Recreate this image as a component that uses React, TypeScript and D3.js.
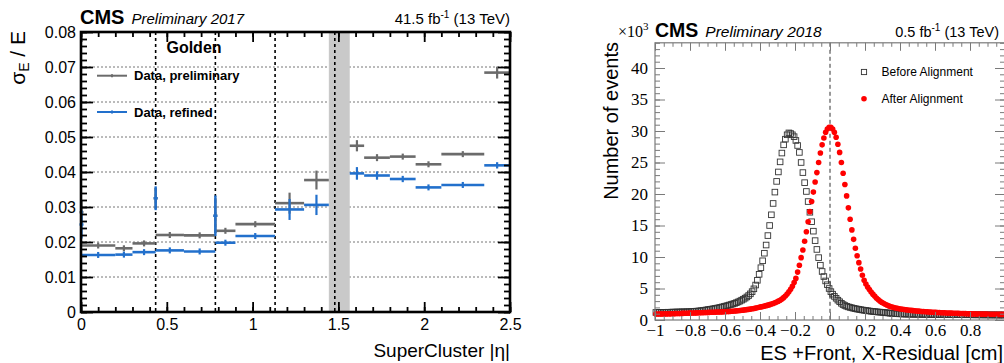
import { useEffect, useRef } from 'react';
import * as d3 from 'd3';

const W = 1004;
const H = 363;
const SANS = '"Liberation Sans", Arial, Helvetica, sans-serif';
const SERIF = '"Liberation Serif", "Times New Roman", serif';

// ---- left panel: sigma_E / E vs SuperCluster |eta| ----
const binLow = [0, 0.2, 0.3, 0.435, 0.6, 0.783, 0.9, 1.131, 1.3, 1.566, 1.65, 1.8, 1.95, 2.1, 2.35];
const binHigh = [0.2, 0.3, 0.435, 0.6, 0.783, 0.9, 1.131, 1.3, 1.4442, 1.65, 1.8, 1.95, 2.1, 2.35, 2.5];
const prelimSigma = [0.019, 0.0182, 0.0196, 0.022, 0.0219, 0.0232, 0.0251, 0.0311, 0.0377, 0.0475, 0.0441, 0.0444, 0.0422, 0.0451, 0.0684];
const prelimErr = [0.0004, 0.0006, 0.0004, 0.0004, 0.0004, 0.0007, 0.0005, 0.003, 0.0027, 0.0016, 0.001, 0.0008, 0.0006, 0.0004, 0.0017];
const refinedSigma = [0.0163, 0.0164, 0.0171, 0.0176, 0.0173, 0.0198, 0.0217, 0.0293, 0.0306, 0.0396, 0.039, 0.038, 0.0356, 0.0363, 0.0419];
const refinedErr = [0.0004, 0.0005, 0.0004, 0.0004, 0.0004, 0.0006, 0.0004, 0.003, 0.0029, 0.0018, 0.0012, 0.0009, 0.0007, 0.0005, 0.0009];

// narrow bins sitting on the barrel module cracks
const crackEta = [0.003, 0.435, 0.783];
const crackPrelim = [0.0285, 0.0325, 0.0275];
const crackPrelimErr = [0.0035, 0.003, 0.005];
const crackRefined = [0.025, 0.0325, 0.0275];
const crackRefinedErr = [0.004, 0.0034, 0.0058];

const moduleEdges = [0.435, 0.783, 1.131, 1.479];
const gapBand = [1.4442, 1.566];
const leftXTicks = [0, 0.5, 1, 1.5, 2, 2.5];
const leftYTicks = [0, 0.01, 0.02, 0.03, 0.04, 0.05, 0.06, 0.07, 0.08];

// ---- right panel: ES +Front X residual, counts in units of 10^3 ----
const beforeCounts = [
  1.20, 1.19, 1.21, 1.22, 1.20, 1.23, 1.22, 1.24, 1.23, 1.25,
  1.26, 1.25, 1.27, 1.28, 1.27, 1.29, 1.30, 1.29, 1.31, 1.32,
  1.34, 1.36, 1.37, 1.40, 1.42, 1.45, 1.48, 1.52, 1.56, 1.61,
  1.66, 1.70, 1.74, 1.79, 1.84, 1.89, 1.95, 2.01, 2.08, 2.15,
  2.22, 2.30, 2.38, 2.46, 2.55, 2.64, 2.75, 2.87, 3.00, 3.15,
  3.30, 3.47, 3.66, 3.88, 4.15, 4.50, 4.95, 5.55, 6.30, 7.25,
  8.3, 9.4, 10.6, 11.9, 13.4, 15.0, 16.7, 18.5, 20.3, 22.0,
  23.5, 25.1, 26.5, 27.8, 28.7, 29.4, 29.7, 29.6, 29.4, 29.1,
  28.5, 27.7, 26.6, 25.0, 23.4, 21.8, 20.4, 18.8, 17.1, 15.6,
  14.1, 12.6, 11.2, 9.9, 8.7, 7.7, 6.9, 6.2, 5.6, 5.0,
  4.5, 4.1, 3.75, 3.45, 3.15, 2.9, 2.65, 2.45, 2.3, 2.18,
  2.08, 2.0, 1.93, 1.86, 1.80, 1.74, 1.69, 1.64, 1.59, 1.55,
  1.51, 1.47, 1.43, 1.39, 1.36, 1.33, 1.30, 1.27, 1.25, 1.23,
  1.20, 1.17, 1.14, 1.11, 1.08, 1.05, 1.03, 1.01, 0.99, 0.98,
  0.97, 0.96, 0.95, 0.94, 0.94, 0.93, 0.93, 0.92, 0.92, 0.91,
  0.91, 0.90, 0.90, 0.90, 0.89, 0.89, 0.89, 0.88, 0.88, 0.88,
  0.88, 0.87, 0.87, 0.87, 0.86, 0.86, 0.86, 0.86, 0.85, 0.85,
  0.85, 0.85, 0.84, 0.84, 0.84, 0.84, 0.83, 0.83, 0.83, 0.83,
  0.83, 0.82, 0.82, 0.82, 0.82, 0.82, 0.81, 0.81, 0.81, 0.81,
  0.81, 0.80, 0.80, 0.80, 0.80, 0.80, 0.79, 0.79, 0.79, 0.79,
];
const afterCounts = [
  0.95, 0.96, 0.95, 0.97, 0.96, 0.98, 0.97, 0.99, 0.98, 1.00,
  1.00, 1.01, 1.02, 1.03, 1.04, 1.05, 1.06, 1.07, 1.08, 1.09,
  1.10, 1.11, 1.12, 1.13, 1.14, 1.15, 1.16, 1.17, 1.18, 1.20,
  1.21, 1.22, 1.23, 1.24, 1.25, 1.26, 1.27, 1.28, 1.29, 1.30,
  1.32, 1.34, 1.36, 1.38, 1.40, 1.42, 1.45, 1.48, 1.51, 1.54,
  1.57, 1.61, 1.65, 1.69, 1.73, 1.78, 1.83, 1.89, 1.95, 2.02,
  2.08, 2.14, 2.21, 2.28, 2.36, 2.44, 2.53, 2.63, 2.74, 2.86,
  2.99, 3.13, 3.32, 3.55, 3.82, 4.12, 4.47, 4.88, 5.35, 5.95,
  6.6, 7.6, 8.7, 9.9, 11.1, 12.5, 14.0, 15.6, 17.2, 18.8,
  20.3, 21.9, 23.4, 25.0, 26.5, 27.8, 28.9, 29.8, 30.3, 30.6,
  30.6, 30.3, 29.8, 29.0, 27.9, 26.6, 25.0, 23.3, 21.5, 19.7,
  17.8, 16.0, 14.3, 12.8, 11.4, 10.2, 9.1, 8.1, 7.1, 6.3,
  5.7, 5.25, 4.85, 4.45, 4.1, 3.8, 3.5, 3.25, 3.02, 2.82,
  2.65, 2.50, 2.37, 2.25, 2.15, 2.06, 1.98, 1.91, 1.85, 1.79,
  1.74, 1.70, 1.66, 1.62, 1.58, 1.55, 1.52, 1.49, 1.46, 1.43,
  1.41, 1.39, 1.36, 1.34, 1.32, 1.30, 1.28, 1.26, 1.24, 1.22,
  1.21, 1.19, 1.18, 1.16, 1.15, 1.14, 1.12, 1.11, 1.10, 1.09,
  1.08, 1.07, 1.06, 1.05, 1.04, 1.03, 1.02, 1.01, 1.00, 0.99,
  0.98, 0.97, 0.97, 0.96, 0.95, 0.95, 0.94, 0.94, 0.93, 0.93,
  0.92, 0.92, 0.91, 0.91, 0.91, 0.90, 0.90, 0.90, 0.89, 0.89,
];
const residualBinWidth = 0.01;
const residualCenters = beforeCounts.map((_, i) => -1 + residualBinWidth * (i + 0.5));
const rightXTicks = [-1, -0.8, -0.6, -0.4, -0.2, 0, 0.2, 0.4, 0.6, 0.8];
const rightYTicks = [0, 5, 10, 15, 20, 25, 30, 35, 40];

const GREY = '#6b6b6b';
const BLUE = '#2270cc';

function styleAxis(g: any, color: string, width: number, fontSize: number, font: string) {
  g.select('.domain').remove();
  g.selectAll('line').attr('stroke', color).attr('stroke-width', width);
  g.selectAll('text').attr('fill', '#000').style('font-size', `${fontSize}px`).style('font-family', font);
}

function drawLeft(g: any) {
  const x = d3.scaleLinear().domain([0, 2.5]).range([81, 510]);
  const y = d3.scaleLinear().domain([0, 0.08]).range([312, 32]);

  // horizontal dotted grid
  g.append('g').selectAll('line')
    .data(leftYTicks.filter(v => v > 0 && v < 0.08))
    .join('line')
    .attr('x1', x(0)).attr('x2', x(2.5))
    .attr('y1', (d: number) => y(d)).attr('y2', (d: number) => y(d))
    .attr('stroke', '#777').attr('stroke-width', 1).attr('stroke-dasharray', '2,2');

  // EB-EE transition band
  g.append('rect')
    .attr('x', x(gapBand[0])).attr('width', x(gapBand[1]) - x(gapBand[0]))
    .attr('y', y(0.08)).attr('height', y(0) - y(0.08))
    .attr('fill', '#c9c9c9');

  // module boundaries
  g.append('g').selectAll('line')
    .data(moduleEdges)
    .join('line')
    .attr('x1', (d: number) => x(d)).attr('x2', (d: number) => x(d))
    .attr('y1', y(0.08)).attr('y2', y(0))
    .attr('stroke', '#000').attr('stroke-width', 1.6).attr('stroke-dasharray', '3,3');

  const series = (val: number[], err: number[], color: string) => {
    const s = g.append('g').attr('stroke', color).attr('stroke-width', 2.6).attr('fill', 'none');
    val.forEach((v, i) => {
      const cx = x((binLow[i] + binHigh[i]) / 2);
      s.append('line').attr('x1', x(binLow[i])).attr('x2', x(binHigh[i])).attr('y1', y(v)).attr('y2', y(v));
      const half = Math.max(y(v - err[i]) - y(v), 3);
      s.append('line').attr('x1', cx).attr('x2', cx).attr('y1', y(v) - half).attr('y2', y(v) + half)
        .attr('stroke-width', 2.2);
    });
  };
  const cracks = (val: number[], err: number[], color: string) => {
    const s = g.append('g').attr('stroke', color).attr('stroke-width', 2.4);
    val.forEach((v, i) => {
      const cx = x(crackEta[i]);
      s.append('line').attr('x1', cx).attr('x2', cx).attr('y1', y(v + err[i])).attr('y2', y(v - err[i]));
      s.append('line').attr('x1', cx - 2).attr('x2', cx + 2).attr('y1', y(v)).attr('y2', y(v));
    });
  };
  series(prelimSigma, prelimErr, GREY);
  cracks(crackPrelim, crackPrelimErr, GREY);
  series(refinedSigma, refinedErr, BLUE);
  cracks(crackRefined, crackRefinedErr, BLUE);

  // axes, ROOT style ticks on all four sides
  const minorX = d3.range(0, 2.5001, 0.1);
  const minorY = d3.range(0, 0.08001, 0.002);
  const fmtY = (d: number) => (d === 0 ? '0' : d3.format('.2f')(d));

  g.append('g').attr('transform', `translate(0,${y(0)})`)
    .call(d3.axisBottom(x).tickValues(minorX).tickSize(-5).tickFormat(() => ''))
    .call((a: any) => styleAxis(a, '#000', 1.8, 16, SANS));
  g.append('g').attr('transform', `translate(0,${y(0)})`)
    .call(d3.axisBottom(x).tickValues(leftXTicks).tickSize(-10).tickPadding(7).tickFormat((d: any) => String(d)))
    .call((a: any) => styleAxis(a, '#000', 1.8, 16, SANS));
  g.append('g').attr('transform', `translate(0,${y(0.08)})`)
    .call(d3.axisTop(x).tickValues(minorX).tickSize(-5).tickFormat(() => ''))
    .call((a: any) => styleAxis(a, '#000', 1.8, 16, SANS));
  g.append('g').attr('transform', `translate(0,${y(0.08)})`)
    .call(d3.axisTop(x).tickValues(leftXTicks).tickSize(-10).tickFormat(() => ''))
    .call((a: any) => styleAxis(a, '#000', 1.8, 16, SANS));

  g.append('g').attr('transform', `translate(${x(0)},0)`)
    .call(d3.axisLeft(y).tickValues(minorY).tickSize(-6).tickFormat(() => ''))
    .call((a: any) => styleAxis(a, '#000', 1.8, 16, SANS));
  g.append('g').attr('transform', `translate(${x(0)},0)`)
    .call(d3.axisLeft(y).tickValues(leftYTicks).tickSize(-12).tickPadding(5).tickFormat(fmtY as any))
    .call((a: any) => styleAxis(a, '#000', 1.8, 16, SANS));
  g.append('g').attr('transform', `translate(${x(2.5)},0)`)
    .call(d3.axisRight(y).tickValues(minorY).tickSize(-6).tickFormat(() => ''))
    .call((a: any) => styleAxis(a, '#000', 1.8, 16, SANS));
  g.append('g').attr('transform', `translate(${x(2.5)},0)`)
    .call(d3.axisRight(y).tickValues(leftYTicks).tickSize(-12).tickFormat(() => ''))
    .call((a: any) => styleAxis(a, '#000', 1.8, 16, SANS));

  g.append('rect')
    .attr('x', x(0)).attr('y', y(0.08)).attr('width', x(2.5) - x(0)).attr('height', y(0) - y(0.08))
    .attr('fill', 'none').attr('stroke', '#000').attr('stroke-width', 2.6);

  // legend
  g.append('text').attr('x', 194).attr('y', 53).attr('text-anchor', 'middle')
    .style('font-family', SANS).style('font-size', '16px').style('font-weight', 'bold').text('Golden');
  const legend = [
    { label: 'Data, preliminary', color: GREY, ly: 75.7 },
    { label: 'Data, refined', color: BLUE, ly: 112 },
  ];
  legend.forEach(l => {
    g.append('line').attr('x1', 97).attr('x2', 127).attr('y1', l.ly).attr('y2', l.ly)
      .attr('stroke', l.color).attr('stroke-width', 2);
    g.append('line').attr('x1', 112).attr('x2', 112).attr('y1', l.ly - 1.5).attr('y2', l.ly + 1.5)
      .attr('stroke', l.color).attr('stroke-width', 2);
    g.append('text').attr('x', 134).attr('y', l.ly + 4.6)
      .style('font-family', SANS).style('font-size', '13px').style('font-weight', 'bold').text(l.label);
  });

  // header
  const head = g.append('text').attr('x', 80).attr('y', 24).style('font-family', SANS);
  head.append('tspan').style('font-size', '20px').style('font-weight', 'bold').text('CMS');
  head.append('tspan').attr('dx', 7).style('font-size', '15px').style('font-style', 'italic').text('Preliminary 2017');

  const lumi = g.append('text').attr('x', 510).attr('y', 24).attr('text-anchor', 'end')
    .style('font-family', SANS).style('font-size', '15px');
  lumi.append('tspan').text('41.5 fb');
  lumi.append('tspan').attr('dy', -6).style('font-size', '10px').text('-1');
  lumi.append('tspan').attr('dy', 6).text(' (13 TeV)');

  // axis titles
  g.append('text').attr('x', 510).attr('y', 357).attr('text-anchor', 'end')
    .style('font-family', SANS).style('font-size', '19px').text('SuperCluster |η|');
  const yt = g.append('text').attr('transform', 'translate(25,31) rotate(-90)').attr('text-anchor', 'end')
    .style('font-family', SANS).style('font-size', '21px');
  yt.append('tspan').text('σ');
  yt.append('tspan').attr('dy', 4).style('font-size', '14px').text('E');
  yt.append('tspan').attr('dy', -4).text(' / E');
}

function drawRight(g: any) {
  const x = d3.scaleLinear().domain([-1, 1]).range([655, 1005]);
  const y = d3.scaleLinear().domain([0, 44]).range([320, 42.8]);
  const axisColor = '#7a7a7a';

  g.append('line').attr('x1', x(0)).attr('x2', x(0)).attr('y1', y(44)).attr('y2', y(0))
    .attr('stroke', '#333').attr('stroke-width', 1).attr('stroke-dasharray', '4,3');

  const sq = 5.6;
  g.append('g').selectAll('rect')
    .data(beforeCounts)
    .join('rect')
    .attr('x', (_: number, i: number) => x(residualCenters[i]) - sq / 2)
    .attr('y', (d: number) => y(d) - sq / 2)
    .attr('width', sq).attr('height', sq)
    .attr('fill', 'none').attr('stroke', '#333').attr('stroke-width', 0.9);

  g.append('g').selectAll('circle')
    .data(afterCounts)
    .join('circle')
    .attr('cx', (_: number, i: number) => x(residualCenters[i]))
    .attr('cy', (d: number) => y(d))
    .attr('r', 2.8)
    .attr('fill', '#ff0000');

  const minorX = d3.range(-1, 1.0001, 0.05);
  const minorY = d3.range(0, 44.001, 1);

  g.append('g').attr('transform', `translate(0,${y(0)})`)
    .call(d3.axisBottom(x).tickValues(minorX).tickSize(-4).tickFormat(() => ''))
    .call((a: any) => styleAxis(a, axisColor, 1, 17, SERIF));
  g.append('g').attr('transform', `translate(0,${y(0)})`)
    .call(d3.axisBottom(x).tickValues(rightXTicks).tickSize(-8).tickPadding(4).tickFormat(d3.format('')))
    .call((a: any) => styleAxis(a, axisColor, 1, 17, SERIF));
  g.append('g').attr('transform', `translate(0,${y(44)})`)
    .call(d3.axisTop(x).tickValues(minorX).tickSize(-4).tickFormat(() => ''))
    .call((a: any) => styleAxis(a, axisColor, 1, 17, SERIF));
  g.append('g').attr('transform', `translate(0,${y(44)})`)
    .call(d3.axisTop(x).tickValues(rightXTicks).tickSize(-8).tickFormat(() => ''))
    .call((a: any) => styleAxis(a, axisColor, 1, 17, SERIF));

  g.append('g').attr('transform', `translate(${x(-1)},0)`)
    .call(d3.axisLeft(y).tickValues(minorY).tickSize(-5).tickFormat(() => ''))
    .call((a: any) => styleAxis(a, axisColor, 1, 17, SERIF));
  g.append('g').attr('transform', `translate(${x(-1)},0)`)
    .call(d3.axisLeft(y).tickValues(rightYTicks).tickSize(-10).tickPadding(7).tickFormat(d3.format('')))
    .call((a: any) => styleAxis(a, axisColor, 1, 17, SERIF));
  g.append('g').attr('transform', `translate(${x(1)},0)`)
    .call(d3.axisRight(y).tickValues(minorY).tickSize(-5).tickFormat(() => ''))
    .call((a: any) => styleAxis(a, axisColor, 1, 17, SERIF));
  g.append('g').attr('transform', `translate(${x(1)},0)`)
    .call(d3.axisRight(y).tickValues(rightYTicks).tickSize(-10).tickFormat(() => ''))
    .call((a: any) => styleAxis(a, axisColor, 1, 17, SERIF));

  g.append('rect')
    .attr('x', x(-1)).attr('y', y(44)).attr('width', x(1) - x(-1)).attr('height', y(0) - y(44))
    .attr('fill', 'none').attr('stroke', axisColor).attr('stroke-width', 1.2);

  // legend
  const legend = [
    { label: 'Before Alignment', ly: 72, kind: 'square' },
    { label: 'After Alignment', ly: 98.7, kind: 'circle' },
  ];
  legend.forEach(l => {
    if (l.kind === 'square') {
      g.append('rect').attr('x', 864 - 2.6).attr('y', l.ly - 2.6).attr('width', 5.2).attr('height', 5.2)
        .attr('fill', 'none').attr('stroke', '#333').attr('stroke-width', 0.9);
    } else {
      g.append('circle').attr('cx', 864).attr('cy', l.ly).attr('r', 2.8).attr('fill', '#ff0000');
    }
    g.append('text').attr('x', 881.5).attr('y', l.ly + 4.3)
      .style('font-family', SANS).style('font-size', '12px').text(l.label);
  });

  // header
  const exp = g.append('text').attr('x', 618).attr('y', 37).style('font-family', SERIF).style('font-size', '16px');
  exp.append('tspan').text('×10');
  exp.append('tspan').attr('dy', -7).style('font-size', '11px').text('3');

  const head = g.append('text').attr('x', 655).attr('y', 37).style('font-family', SANS);
  head.append('tspan').style('font-size', '19.5px').style('font-weight', 'bold').text('CMS');
  head.append('tspan').attr('dx', 7).style('font-size', '15.5px').style('font-style', 'italic').text('Preliminary 2018');

  const lumi = g.append('text').attr('x', 999).attr('y', 37).attr('text-anchor', 'end')
    .style('font-family', SANS).style('font-size', '14.5px');
  lumi.append('tspan').text('0.5 fb');
  lumi.append('tspan').attr('dy', -6).style('font-size', '10px').text('-1');
  lumi.append('tspan').attr('dy', 6).text(' (13 TeV)');

  // axis titles
  g.append('text').attr('x', 1003).attr('y', 360).attr('text-anchor', 'end')
    .style('font-family', SANS).style('font-size', '20px').text('ES +Front, X-Residual [cm]');
  g.append('text').attr('transform', 'translate(618,42) rotate(-90)').attr('text-anchor', 'end')
    .style('font-family', SANS).style('font-size', '20px').text('Number of events');
}

export default function App() {
  const svgRef = useRef<SVGSVGElement>(null);

  useEffect(() => {
    const svg = d3.select(svgRef.current);
    svg.selectAll('*').remove();
    drawLeft(svg.append('g'));
    drawRight(svg.append('g'));
  }, []);

  return (
    <svg
      ref={svgRef}
      width={W}
      height={H}
      style={{ position: 'absolute', left: 0, top: 0, background: '#fff' }}
    />
  );
}
